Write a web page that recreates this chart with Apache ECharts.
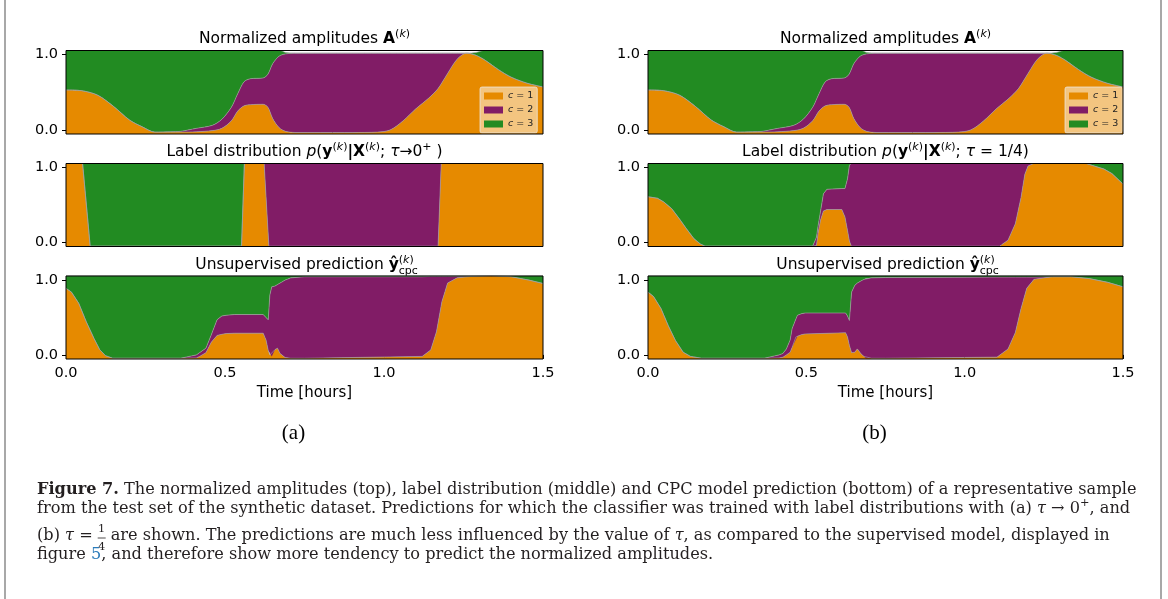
<!DOCTYPE html>
<html>
<head>
<meta charset="utf-8">
<title>Figure 7</title>
<script src="https://cdn.jsdelivr.net/npm/echarts@6.0.0/dist/echarts.min.js"></script>
<style>
  html, body { margin: 0; padding: 0; background: #fff; }
  #chart { width: 1168px; height: 599px; }
</style>
</head>
<body>
<div id="chart"></div>
<script>
// stacked class fractions (c = 1 orange, c = 2 purple, c = 3 green)
// normalized amplitudes (same in (a) and (b))
const ampTime = [0, 0.05, 0.1, 0.15, 0.2, 0.24, 0.28, 0.33, 0.36, 0.41, 0.46, 0.49, 0.52, 0.54, 0.56, 0.58, 0.62, 0.635, 0.65, 0.67, 0.69, 0.72, 0.8, 0.9, 0.98, 1.02, 1.06, 1.1, 1.14, 1.17, 1.2, 1.23, 1.26, 1.29, 1.32, 1.36, 1.4, 1.45, 1.5];
const ampC1 = [0.53, 0.52, 0.46, 0.31, 0.13, 0.04, -0.03, -0.03, -0.03, -0.025, -0.01, 0.02, 0.12, 0.25, 0.32, 0.335, 0.34, 0.30, 0.15, 0.03, -0.02, -0.035, -0.035, -0.035, -0.03, 0.0, 0.12, 0.28, 0.42, 0.55, 0.75, 0.94, 1.02, 0.99, 0.92, 0.80, 0.70, 0.62, 0.57];
const ampC2 = [0, 0, 0, 0, 0, 0, 0, 0.005, 0.01, 0.045, 0.07, 0.12, 0.18, 0.23, 0.32, 0.345, 0.35, 0.44, 0.73, 0.95, 1.03, 1.055, 1.055, 1.055, 1.05, 1.02, 0.90, 0.74, 0.60, 0.47, 0.27, 0.08, 0, 0, 0, 0, 0, 0, 0];
const ampC3 = [0.53, 0.54, 0.60, 0.75, 0.93, 1.02, 1.09, 1.085, 1.08, 1.04, 1.0, 0.92, 0.76, 0.58, 0.42, 0.38, 0.37, 0.32, 0.18, 0.08, 0.02, 0, 0, 0, 0, 0, 0, 0, 0, 0, 0, 0, 0, 0.04, 0.14, 0.26, 0.36, 0.44, 0.49];

// label distribution, tau -> 0+
const labTimeA = [0, 0.052, 0.076, 0.552, 0.561, 0.623, 0.638, 1.17, 1.18, 1.5];
const labA1 = [1.06, 1.06, -0.05, -0.05, 1.06, 1.06, -0.05, -0.05, 1.06, 1.06];
const labA2 = [0, 0, 0, 0, 0, 0, 1.11, 1.11, 0, 0];
const labA3 = [0, 0, 1.11, 1.11, 0, 0, 0, 0, 0, 0];

// label distribution, tau = 1/4
const labTimeB = [0, 0.03, 0.05, 0.075, 0.1, 0.12, 0.145, 0.165, 0.18, 0.52, 0.532, 0.537, 0.545, 0.554, 0.565, 0.612, 0.622, 0.63, 0.636, 0.642, 0.65, 1.11, 1.137, 1.16, 1.178, 1.19, 1.2, 1.22, 1.38, 1.41, 1.44, 1.465, 1.5];
const labB1 = [0.61, 0.59, 0.54, 0.45, 0.31, 0.19, 0.05, -0.02, -0.05, -0.05, -0.04, 0.12, 0.30, 0.42, 0.44, 0.44, 0.34, 0.16, 0.02, -0.05, -0.05, -0.05, 0.03, 0.25, 0.60, 0.91, 1.02, 1.06, 1.06, 1.02, 0.98, 0.92, 0.78];
const labB2 = [0, 0, 0, 0, 0, 0, 0, 0, 0, 0, 0.11, 0.10, 0.12, 0.23, 0.27, 0.28, 0.38, 0.69, 1.01, 1.11, 1.11, 1.11, 1.03, 0.81, 0.46, 0.15, 0.04, 0, 0, 0, 0, 0, 0];
const labB3 = [0.45, 0.47, 0.52, 0.61, 0.75, 0.87, 1.01, 1.08, 1.11, 1.11, 0.99, 0.84, 0.64, 0.41, 0.35, 0.34, 0.34, 0.21, 0.03, 0, 0, 0, 0, 0, 0, 0, 0, 0, 0, 0.04, 0.08, 0.14, 0.28];

// unsupervised prediction (a)
const predTimeA = [0, 0.017, 0.04, 0.064, 0.088, 0.106, 0.124, 0.147, 0.36, 0.41, 0.42, 0.44, 0.457, 0.475, 0.49, 0.504, 0.53, 0.62, 0.629, 0.636, 0.641, 0.647, 0.657, 0.665, 0.673, 0.689, 0.707, 0.75, 1.12, 1.147, 1.165, 1.182, 1.2, 1.23, 1.277, 1.337, 1.4, 1.456, 1.5];
const predA1 = [0.89, 0.84, 0.69, 0.44, 0.22, 0.07, -0.01, -0.045, -0.045, -0.04, -0.02, 0.03, 0.17, 0.26, 0.275, 0.285, 0.29, 0.29, 0.20, 0.06, 0, -0.02, 0.07, 0.09, 0.02, -0.035, -0.045, -0.045, -0.02, 0.067, 0.31, 0.71, 0.96, 1.03, 1.05, 1.06, 1.045, 1.0, 0.955];
const predA2 = [0, 0, 0, 0, 0, 0, 0, 0, 0, 0.04, 0.05, 0.06, 0.10, 0.21, 0.245, 0.245, 0.25, 0.25, 0.30, 0.41, 0.80, 0.93, 0.85, 0.85, 0.94, 1.035, 1.075, 1.09, 1.065, 0.983, 0.74, 0.34, 0.09, 0.02, 0, 0, 0, 0, 0];
const predA3 = [0.17, 0.22, 0.37, 0.62, 0.84, 0.99, 1.07, 1.105, 1.105, 1.06, 1.03, 0.97, 0.79, 0.59, 0.54, 0.53, 0.52, 0.52, 0.56, 0.59, 0.26, 0.15, 0.14, 0.12, 0.10, 0.06, 0.03, 0.015, 0.015, 0.01, 0.01, 0.01, 0.01, 0.01, 0.01, 0, 0.015, 0.06, 0.105];

// unsupervised prediction (b)
const predTimeB = [0, 0.0175, 0.041, 0.064, 0.087, 0.111, 0.134, 0.169, 0.367, 0.414, 0.426, 0.437, 0.449, 0.455, 0.467, 0.472, 0.484, 0.496, 0.624, 0.63, 0.636, 0.643, 0.653, 0.661, 0.673, 0.682, 0.688, 0.706, 0.75, 1.102, 1.137, 1.16, 1.178, 1.196, 1.219, 1.277, 1.336, 1.394, 1.452, 1.5];
const predB1 = [0.84, 0.78, 0.62, 0.39, 0.19, 0.036, -0.02, -0.045, -0.045, -0.04, -0.03, 0, 0.036, 0.1, 0.24, 0.25, 0.27, 0.28, 0.296, 0.24, 0.125, 0.03, 0.036, 0.08, 0.013, -0.02, -0.045, -0.045, -0.045, -0.03, 0.08, 0.3, 0.62, 0.89, 1.01, 1.045, 1.045, 1.02, 0.97, 0.91];
const predB2 = [0, 0, 0, 0, 0, 0, 0, 0, 0, 0.04, 0.05, 0.08, 0.164, 0.25, 0.24, 0.28, 0.28, 0.28, 0.264, 0.28, 0.335, 0.81, 0.894, 0.88, 0.977, 1.03, 1.065, 1.075, 1.08, 1.07, 0.96, 0.74, 0.42, 0.15, 0.03, 0, 0, 0, 0, 0];
const predB3 = [0.22, 0.28, 0.44, 0.67, 0.87, 1.024, 1.08, 1.105, 1.105, 1.06, 1.04, 0.98, 0.86, 0.71, 0.58, 0.53, 0.51, 0.5, 0.5, 0.54, 0.6, 0.22, 0.13, 0.1, 0.07, 0.05, 0.04, 0.03, 0.025, 0.02, 0.02, 0.02, 0.02, 0.02, 0.02, 0.015, 0.015, 0.04, 0.09, 0.15];

const classNames = ['c = 1', 'c = 2', 'c = 3'];
const topTicks = [0, 0.279, 0.557, 0.836, 1.114, 1.393];
const yTicks = [0, 1];

const colors = ['#e68a00', '#811c66', '#228b22'];
const SANS = 'DejaVu Sans';
const SERIF = 'DejaVu Serif';

var chartDom = document.getElementById('chart');
var myChart = echarts.init(chartDom);
var option;

var panels = [
  [ampTime, ampC1, ampC2, ampC3],
  [labTimeA, labA1, labA2, labA3],
  [predTimeA, predA1, predA2, predA3],
  [ampTime, ampC1, ampC2, ampC3],
  [labTimeB, labB1, labB2, labB3],
  [predTimeB, predB1, predB2, predB3]
];
// only the slow amplitude curves get smoothed
var rowSmooth = [0.3, false, false];

var colLeft = [66, 648], colWidth = [477, 475];
var rowTop = [50.5, 163.5, 276], rowHeight = [83.5, 83, 83];

var ctx = document.createElement('canvas').getContext('2d');
function textWidth(str, font) {
  ctx.font = font;
  return ctx.measureText(str).width;
}

var grids = [], xAxes = [], yAxes = [], series = [];
panels.forEach(function (p, g) {
  var col = Math.floor(g / 3), row = g % 3;
  grids.push({
    left: colLeft[col], top: rowTop[row], width: colWidth[col], height: rowHeight[row],
    show: true, borderColor: '#000', borderWidth: 1, backgroundColor: 'transparent', z: 10
  });
  var bottom = row === 2;
  xAxes.push({
    gridIndex: g, type: 'value', min: 0, max: 1.5,
    interval: bottom ? 0.5 : undefined,
    axisLine: { show: false },
    splitLine: { show: false },
    axisTick: bottom
      ? { length: 4, lineStyle: { color: '#000' } }
      : { length: 4, customValues: topTicks, lineStyle: { color: '#000' } },
    axisLabel: bottom
      ? { margin: 7, color: '#000', fontFamily: SANS, fontSize: 14.5, formatter: function (v) { return v.toFixed(1); } }
      : { show: false },
    name: bottom ? 'Time [hours]' : '',
    nameLocation: 'middle',
    nameGap: 27,
    nameTextStyle: { color: '#000', fontFamily: SANS, fontSize: 15 }
  });
  yAxes.push({
    gridIndex: g, type: 'value', min: -0.055, max: 1.055,
    axisLine: { show: false },
    splitLine: { show: false },
    axisTick: { length: 4, customValues: yTicks, lineStyle: { color: '#000' } },
    axisLabel: {
      customValues: yTicks, margin: 8, color: '#000', fontFamily: SANS, fontSize: 14.5,
      formatter: function (v) { return v.toFixed(1); }
    }
  });
  for (var k = 0; k < 3; k++) {
    var vals = p[k + 1];
    // value first so that the stack runs along y
    series.push({
      name: classNames[k],
      type: 'line',
      xAxisIndex: g,
      yAxisIndex: g,
      encode: { x: 1, y: 0 },
      stack: 'panel' + g,
      stackStrategy: 'all',
      smooth: rowSmooth[row],
      showSymbol: false,
      symbol: 'none',
      silent: true,
      itemStyle: { color: colors[k] },
      lineStyle: { width: 0.8, color: 'rgba(160,160,160,0.8)' },
      areaStyle: k === 0 ? { color: colors[k], opacity: 1, origin: 'start' } : { color: colors[k], opacity: 1 },
      data: p[0].map(function (t, i) { return [vals[i], t]; })
    });
  }
});

function legendAt(left) {
  return {
    data: classNames,
    orient: 'vertical',
    left: left,
    top: 87,
    padding: [4, 4, 4, 4],
    itemGap: 4,
    itemWidth: 19,
    itemHeight: 7,
    icon: 'rect',
    selectedMode: false,
    backgroundColor: 'rgba(255,255,255,0.5)',
    borderColor: 'rgba(235,235,235,0.7)',
    borderWidth: 1,
    borderRadius: 2,
    formatter: function (name) { return '{i|c}' + name.slice(1); },
    textStyle: {
      color: '#222', fontFamily: SANS, fontSize: 9.5, lineHeight: 10,
      rich: { i: { fontStyle: 'italic', fontFamily: SANS, fontSize: 9.5, color: '#222' } }
    }
  };
}

// titles
var T = 15.5, S = 11;
var titleRich = {
  n: { fontFamily: SANS, fontSize: T, lineHeight: 20, fill: '#000' },
  b: { fontFamily: SANS, fontSize: T, fontWeight: 'bold', lineHeight: 20, fill: '#000' },
  i: { fontFamily: SANS, fontSize: T, fontStyle: 'italic', lineHeight: 20, fill: '#000' },
  s: { fontFamily: SANS, fontSize: S, lineHeight: 12, verticalAlign: 'top', fill: '#000' },
  si: { fontFamily: SANS, fontSize: S, fontStyle: 'italic', lineHeight: 12, verticalAlign: 'top', fill: '#000' }
};
var supK = '{s|(}{si|k}{s|)}';
var ampTitle = '{n|Normalized amplitudes }{b|A}' + supK;
var labTitleA = '{n|Label distribution }{i|p}{n|(}{b|y}' + supK + '{b||X}' + supK + '{n|; }{i|τ}{n|→0}{s|+}{n| )}';
var labTitleB = '{n|Label distribution }{i|p}{n|(}{b|y}' + supK + '{b||X}' + supK + '{n|; }{i|τ}{n| = 1/4)}';

var graphics = [];
function title(cx, cy, text) {
  graphics.push({ type: 'text', x: cx, y: cy, silent: true,
    style: { text: text, rich: titleRich, align: 'center', verticalAlign: 'middle', fill: '#000', fontFamily: SANS, fontSize: T } });
}
[0, 1].forEach(function (col) {
  var cx = colLeft[col] + colWidth[col] / 2;
  title(cx, 39, ampTitle);
  title(cx, 152, col === 0 ? labTitleA : labTitleB);
  var wMain = textWidth('Unsupervised prediction ', T + 'px "' + SANS + '"');
  var wHat = textWidth('ŷ', 'bold ' + T + 'px "' + SANS + '"');
  var wSup = textWidth('(k)', S + 'px "' + SANS + '"');
  var x0 = cx - (wMain + wHat + wSup) / 2;
  graphics.push({ type: 'text', x: x0, y: 264.5, silent: true,
    style: { text: '{n|Unsupervised prediction }{b|ŷ}' + supK, rich: titleRich, align: 'left', verticalAlign: 'middle', fill: '#000' } });
  graphics.push({ type: 'text', x: x0 + wMain + wHat, y: 271, silent: true,
    style: { text: 'cpc', fill: '#000', fontFamily: SANS, fontSize: S, align: 'left', verticalAlign: 'middle' } });
  graphics.push({ type: 'text', x: cx - 11, y: 433, silent: true,
    style: { text: col === 0 ? '(a)' : '(b)', fill: '#000', fontFamily: 'Liberation Serif', fontSize: 21, align: 'center', verticalAlign: 'middle' } });
});

// caption
var capLines = [
  ['Figure 7.', ' The normalized amplitudes (top), label distribution (middle) and CPC model prediction (bottom) of a representative sample'],
  'from the test set of the synthetic dataset. Predictions for which the classifier was trained with label distributions with (a) ',
  'are shown. The predictions are much less influenced by the value of ',
  'figure '
];
var capW = textWidth(capLines[0][0], 'bold 15px "' + SERIF + '"') + textWidth(capLines[0][1], '15px "' + SERIF + '"');
var C = Math.max(13, Math.min(17, 15 * 1101 / capW));
var capFont = C + 'px "' + SERIF + '"';
var capRich = {
  b: { fontFamily: SERIF, fontSize: C, fontWeight: 'bold', fill: '#231f20' },
  i: { fontFamily: SERIF, fontSize: C, fontStyle: 'italic', fill: '#231f20' },
  u: { fontFamily: SERIF, fontSize: C * 0.7, verticalAlign: 'top', lineHeight: C * 0.8, fill: '#231f20' },
  r: { fontFamily: SERIF, fontSize: C, lineHeight: C * 1.3, fill: '#231f20' },
  a: { fontFamily: SERIF, fontSize: C, fill: '#2b7bba' }
};
var capX = 37;
function capText(x, y, text) {
  graphics.push({ type: 'text', x: x, y: y, silent: true,
    style: { text: text, rich: capRich, fill: '#231f20', fontFamily: SERIF, fontSize: C, align: 'left', verticalAlign: 'middle' } });
}
capText(capX, 490, '{b|' + capLines[0][0] + '}' + capLines[0][1]);
capText(capX, 508.5, '{r|' + capLines[1] + '}{i|τ}{r| → 0}{u|+}{r|, and}');
var w3a = textWidth('(b) ', capFont) + textWidth('τ', 'italic ' + capFont) + textWidth(' =', capFont);
var fx = capX + w3a + 9;
capText(capX, 535.5, '(b) {i|τ} =');
graphics.push({ type: 'text', x: fx, y: 529, silent: true,
  style: { text: '1', fill: '#231f20', fontFamily: SERIF, fontSize: C * 0.7, align: 'center', verticalAlign: 'middle' } });
graphics.push({ type: 'text', x: fx, y: 547, silent: true,
  style: { text: '4', fill: '#231f20', fontFamily: SERIF, fontSize: C * 0.7, align: 'center', verticalAlign: 'middle' } });
graphics.push({ type: 'line', silent: true, shape: { x1: fx - 4, y1: 538, x2: fx + 4, y2: 538 }, style: { stroke: '#231f20', lineWidth: 0.8 } });
capText(fx + 9, 535.5, capLines[2] + '{i|τ}, as compared to the supervised model, displayed in');
capText(capX, 555, capLines[3] + '{a|5}, and therefore show more tendency to predict the normalized amplitudes.');

// page frame
graphics.push({ type: 'line', silent: true, shape: { x1: 5, y1: 0, x2: 5, y2: 599 }, style: { stroke: '#a8a8a8', lineWidth: 2 } });
graphics.push({ type: 'line', silent: true, shape: { x1: 1161, y1: 0, x2: 1161, y2: 599 }, style: { stroke: '#a8a8a8', lineWidth: 2 } });

option = {
  animation: false,
  backgroundColor: '#fff',
  grid: grids,
  xAxis: xAxes,
  yAxis: yAxes,
  legend: [legendAt(480), legendAt(1065)],
  graphic: graphics,
  series: series
};

option && myChart.setOption(option);
</script>
</body>
</html>
